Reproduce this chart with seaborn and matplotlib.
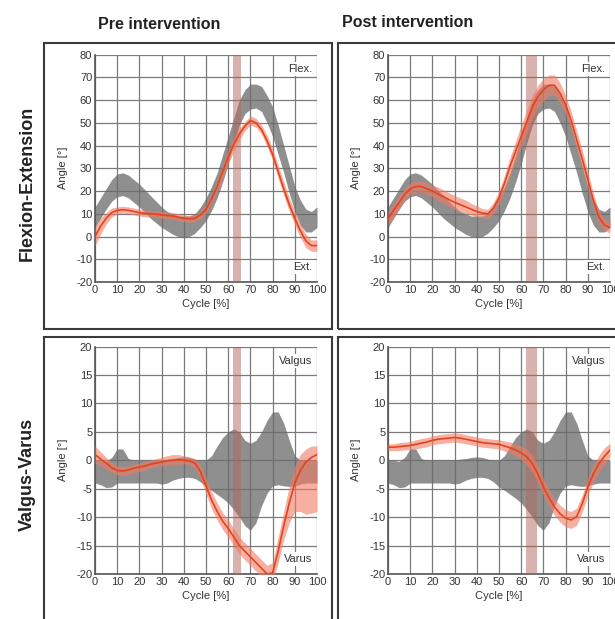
import matplotlib
matplotlib.use("Agg")
import matplotlib.pyplot as plt
from matplotlib.patches import Rectangle
import numpy as np
import pandas as pd
import seaborn as sns

# cycle positions (%), every 2.5 %
CYCLE = [0, 2.5, 5, 7.5, 10, 12.5, 15, 17.5, 20, 22.5, 25, 27.5, 30, 32.5, 35, 37.5, 40, 42.5, 45, 47.5,
         50, 52.5, 55, 57.5, 60, 62.5, 65, 67.5, 70, 72.5, 75, 77.5, 80, 82.5, 85, 87.5, 90, 92.5, 95, 97.5, 100]

# normative corridor (gray), same in both columns
NORM_FE_HI = [13, 17, 21, 25, 27.5, 28, 27, 25, 23, 20.5, 18, 15.5, 13, 11, 10, 9, 9, 9, 10, 13,
              17, 22, 28, 36, 44, 52, 60, 64.5, 67, 67, 66, 62, 57, 49, 40, 31, 22, 16, 12, 11, 13]
NORM_FE_LO = [4, 8, 12, 15.5, 17.5, 18, 17, 15, 13, 10.5, 8, 6, 4, 2.5, 1, 0, -0.5, 0, 1.5, 4,
              7, 11.5, 17, 24, 32, 41, 49, 54, 56, 56.5, 55, 50, 44, 36, 28, 19, 11, 5, 2, 2, 4]
NORM_VV_HI = [0, 0, -0.2, 0.5, 2, 2, 0.3, 0, 0, 0, 0, 0, 0, 0.2, 0.3, 0.5, 0.6, 0.5, 0.2, 0,
              0, 0.8, 2.5, 4, 5, 5.5, 5, 3.5, 3, 3.5, 5, 7, 8.5, 8.5, 6.5, 3.5, 0.8, 0, 0, 0, 0]
NORM_VV_LO = [-4, -4.3, -4.8, -4.7, -4, -4, -4, -4, -4, -4, -4, -4, -4.2, -4, -3.5, -3.2, -3, -3, -3.2, -3.8,
              -4.7, -5.3, -6, -6.7, -7.5, -8.7, -10, -11.5, -12.3, -11, -8, -5.8, -4.5, -4.3, -4.5, -4.6,
              -4.5, -4.2, -4, -4, -4]

# patient, pre intervention
PRE_FE_MEAN = [0, 4.5, 8, 10.5, 11.5, 11.8, 11.5, 11, 10.5, 10.2, 10, 9.8, 9.5, 9.2, 9, 8.5, 8, 7.8, 8, 9.5,
               12, 16.5, 22, 28.5, 35, 40.5, 45, 48.5, 51, 50, 47, 42, 36, 28.5, 21, 14, 8, 2.5, -2, -4, -4]
PRE_FE_SD = [4, 3.5, 2.5, 2, 1.5, 1.5, 1.5, 1.5, 1.5, 1.5, 1.5, 1.5, 1.5, 1.5, 1.5, 1.5, 1.5, 1.5, 1.5, 1.5,
             2, 2, 2.5, 3, 3, 3, 2.5, 2, 2, 2, 2, 2.5, 2.5, 3, 3, 3, 3, 3, 3, 2.5, 2.5]
PRE_VV_MEAN = [1, 0.2, -0.5, -1.3, -1.8, -1.9, -1.7, -1.4, -1.2, -1, -0.7, -0.5, -0.3, -0.1, 0, 0.1, 0, -0.1,
               -0.5, -2, -4.5, -7, -9, -10.7, -12, -13.5, -15, -16, -17, -18, -19, -20, -19.8, -16, -11.5,
               -7.5, -4, -1.8, -0.3, 0.5, 1]
PRE_VV_HI = [2.5, 1.5, 0.5, -0.3, -1, -1.1, -1, -0.7, -0.5, -0.2, 0, 0.3, 0.5, 0.8, 1, 1, 0.8, 0.6, 0.3, -0.8,
             -3, -5.5, -7.5, -9.2, -10.5, -12, -13.5, -14.5, -15.5, -16.5, -17.5, -18.5, -18, -13.5, -9,
             -4.5, -1, 1, 2, 2.5, 2.5]
PRE_VV_LO = [-0.5, -1, -1.5, -2.2, -2.5, -2.7, -2.5, -2.2, -2, -1.7, -1.3, -1.2, -1, -0.9, -0.8, -0.7, -0.6,
             -0.8, -1.3, -3.2, -6, -8.5, -10.5, -12.2, -13.5, -15, -16.5, -17.5, -18.5, -19.5, -20.5, -21.5,
             -21.5, -18, -14, -11, -9, -9, -9.5, -9.3, -9]

# patient, post intervention
POST_FE_MEAN = [8, 11.5, 15, 18.5, 21, 22, 22, 21, 20, 18.7, 17.5, 16.2, 15, 14, 13, 12, 11, 10.3, 10, 12.5,
                17, 23.5, 31, 37.5, 44, 50.5, 57, 61.5, 64.5, 66.5, 66.5, 63, 58, 51, 42.5, 34, 25, 16, 8.5,
                5, 4]
POST_FE_SD = [3, 3, 3, 2.5, 2.5, 2.5, 2.5, 2.5, 2.5, 3, 3, 3, 3, 3, 3, 2.5, 2.5, 2, 2, 2.5,
              3, 3.5, 4, 4.5, 5, 5, 5, 5, 5, 4.5, 4.5, 4.5, 4, 4, 4, 4, 3.5, 3, 3, 2.5, 2.5]
POST_VV_MEAN = [2.3, 2.3, 2.4, 2.5, 2.6, 2.8, 3, 3.2, 3.5, 3.7, 3.8, 3.9, 4, 3.9, 3.7, 3.5, 3.3, 3.1, 3, 2.9,
                2.8, 2.5, 2.2, 1.8, 1.3, 0.6, -0.6, -2.4, -4.7, -6.6, -8.2, -9.4, -10.2, -10.5, -9.9, -7.6,
                -4.7, -2.4, -0.6, 0.7, 1.8]
POST_VV_SD = [0.6, 0.6, 0.7, 0.7, 0.7, 0.8, 0.8, 0.8, 0.8, 0.8, 0.8, 0.8, 0.8, 0.8, 0.8, 0.8, 0.8, 0.8, 0.8,
              0.8, 0.8, 0.9, 1, 1.1, 1.2, 1.4, 1.5, 1.5, 1.5, 1.5, 1.5, 1.5, 1.5, 1.5, 1.5, 1.5, 1.5, 1.5,
              1.5, 1.5, 1.2]

# toe-off event band (% cycle)
EVENT_PRE = (62, 65.7)
EVENT_POST = (62.3, 67.3)

COL_TITLES = ["Pre intervention", "Post intervention"]
ROW_TITLES = ["Flexion-Extension", "Valgus-Varus"]

GRAY = "#6a6a6a"
RED = "#e4431c"
RED_BAND = "#f27a62"
EVENT = "#b5665c"
TXT = "#333333"

sns.set_style("white")
plt.rcParams["font.family"] = ["Liberation Sans", "DejaVu Sans"]
plt.rcParams["axes.unicode_minus"] = False

fig = plt.figure(figsize=(6.15, 6.19), dpi=100)

lefts = [0.1545, 0.6309]
bottoms = [0.5444, 0.0727]
w, h = 0.361, 0.3675


def panel(ax, norm_lo, norm_hi, mean, lo, hi, event, ylim, ystep, top_txt, bot_txt):
    df = pd.DataFrame({"cycle": CYCLE, "mean": mean})
    ax.fill_between(CYCLE, norm_lo, norm_hi, color=GRAY, alpha=0.75, lw=0, zorder=2)
    ax.axvspan(event[0], event[1], color=EVENT, alpha=0.5, lw=0, zorder=3)
    ax.fill_between(CYCLE, lo, hi, color=RED_BAND, alpha=0.6, lw=0, zorder=4)
    sns.lineplot(data=df, x="cycle", y="mean", ax=ax, color=RED, lw=1.2, zorder=5)
    ax.set_xlim(0, 100)
    ax.set_ylim(*ylim)
    ax.set_xticks(range(0, 101, 10))
    ax.set_yticks(np.arange(ylim[0], ylim[1] + 1, ystep))
    ax.grid(True, color="#7a7a7a", lw=0.9, zorder=1)
    ax.set_axisbelow(True)
    ax.tick_params(length=0, pad=2, labelsize=8, labelcolor=TXT)
    for s in ["top", "right"]:
        ax.spines[s].set_visible(False)
    for s in ["left", "bottom"]:
        ax.spines[s].set_color("#555555")
        ax.spines[s].set_linewidth(1.2)
    ax.set_xlabel("Cycle [%]", fontsize=8, color=TXT, labelpad=3)
    ax.set_ylabel("Angle [°]", fontsize=8, color=TXT, labelpad=6)
    span = ylim[1] - ylim[0]
    box = dict(facecolor="white", edgecolor="none", pad=1.5)
    ax.text(98, ylim[1] - 0.065 * span, top_txt, ha="right", va="center", fontsize=8,
            color=TXT, bbox=box, zorder=6)
    ax.text(98, ylim[0] + 0.065 * span, bot_txt, ha="right", va="center", fontsize=8,
            color=TXT, bbox=box, zorder=6)


pre_fe_lo = np.array(PRE_FE_MEAN) - np.array(PRE_FE_SD)
pre_fe_hi = np.array(PRE_FE_MEAN) + np.array(PRE_FE_SD)
post_fe_lo = np.array(POST_FE_MEAN) - np.array(POST_FE_SD)
post_fe_hi = np.array(POST_FE_MEAN) + np.array(POST_FE_SD)
post_vv_lo = np.array(POST_VV_MEAN) - np.array(POST_VV_SD)
post_vv_hi = np.array(POST_VV_MEAN) + np.array(POST_VV_SD)

specs = [
    [(NORM_FE_LO, NORM_FE_HI, PRE_FE_MEAN, pre_fe_lo, pre_fe_hi, EVENT_PRE, (-20, 80), 10, "Flex.", "Ext."),
     (NORM_FE_LO, NORM_FE_HI, POST_FE_MEAN, post_fe_lo, post_fe_hi, EVENT_POST, (-20, 80), 10, "Flex.", "Ext.")],
    [(NORM_VV_LO, NORM_VV_HI, PRE_VV_MEAN, PRE_VV_LO, PRE_VV_HI, EVENT_PRE, (-20, 20), 5, "Valgus", "Varus"),
     (NORM_VV_LO, NORM_VV_HI, POST_VV_MEAN, post_vv_lo, post_vv_hi, EVENT_POST, (-20, 20), 5, "Valgus", "Varus")],
]

for r in range(2):
    for c in range(2):
        ax = fig.add_axes([lefts[c], bottoms[r], w, h])
        panel(ax, *specs[r][c])

# panel frames
frames = [(0.0715, 0.4685, 0.468, 0.462), (0.5496, 0.4685, 0.5, 0.462),
          (0.0715, -0.05, 0.468, 0.5056), (0.5496, -0.05, 0.5, 0.5056)]
for x0, y0, fw, fh in frames:
    fig.add_artist(Rectangle((x0, y0), fw, fh, transform=fig.transFigure, fill=False,
                             edgecolor="#3a3a3a", lw=1.5))

fig.text(0.259, 0.960, COL_TITLES[0], ha="center", va="center", fontsize=11.5,
         fontweight="bold", color="#222222")
fig.text(0.663, 0.964, COL_TITLES[1], ha="center", va="center", fontsize=11.5,
         fontweight="bold", color="#222222")
fig.text(0.044, 0.704, ROW_TITLES[0], ha="center", va="center", rotation=90, fontsize=13,
         fontweight="bold", color="#222222")
fig.text(0.044, 0.233, ROW_TITLES[1], ha="center", va="center", rotation=90, fontsize=13,
         fontweight="bold", color="#222222")

fig.savefig("out.png", dpi=100)
